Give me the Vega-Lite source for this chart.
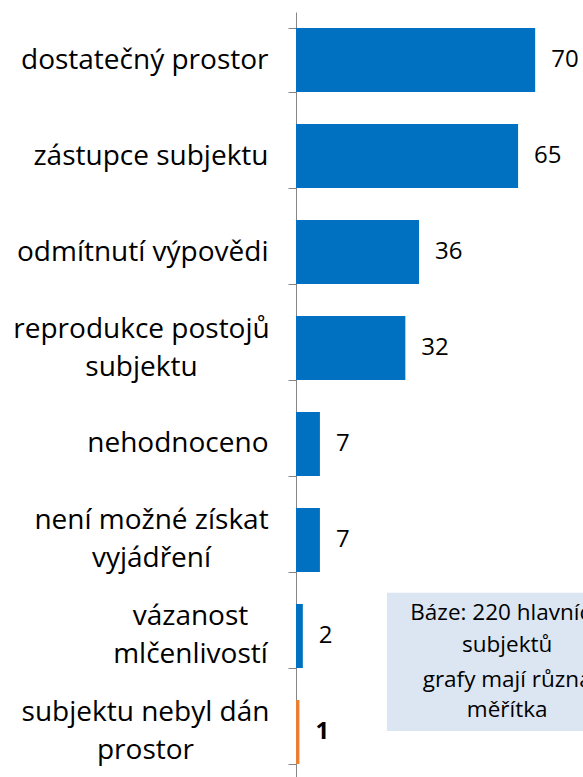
{
  "$schema": "https://vega.github.io/schema/vega-lite/v6.json",
  "width": 287,
  "height": 768,
  "autosize": {"type": "none"},
  "padding": {"left": 296, "top": 12, "right": 0, "bottom": 0},
  "config": {"view": {"stroke": null}, "font": "Open Sans"},
  "layer": [
    {
      "data": {
        "values": [
          {"kategorie": "dostatečný prostor", "pocet": 70, "skupina": "a"},
          {"kategorie": "zástupce subjektu", "pocet": 65, "skupina": "a"},
          {"kategorie": "odmítnutí výpovědi", "pocet": 36, "skupina": "a"},
          {"kategorie": "reprodukce postojů\nsubjektu", "pocet": 32, "skupina": "a"},
          {"kategorie": "nehodnoceno", "pocet": 7, "skupina": "a"},
          {"kategorie": "není možné získat\nvyjádření", "pocet": 7, "skupina": "a"},
          {"kategorie": "vázanost\nmlčenlivostí", "pocet": 2, "skupina": "a"},
          {"kategorie": "subjektu nebyl dán\nprostor", "pocet": 1, "skupina": "b"}
        ]
      },
      "encoding": {
        "y": {
          "field": "kategorie",
          "type": "nominal",
          "sort": null,
          "scale": {"paddingInner": 0.3333, "paddingOuter": 0.1667},
          "axis": {
            "title": null,
            "domainColor": "#868686",
            "tickColor": "#868686",
            "tickSize": 8,
            "tickBand": "extent",
            "labelFontSize": 28,
            "labelColor": "#000000",
            "labelAlign": {
              "condition": {"test": "indexof(datum.value + '', '\\n') >= 0", "value": "center"},
              "value": "right"
            },
            "labelPadding": {
              "condition": [
                {"test": "indexof(datum.value + '', 'reprodukce') == 0", "value": 147},
                {"test": "indexof(datum.value + '', 'není') == 0", "value": 137},
                {"test": "indexof(datum.value + '', 'vázanost') == 0", "value": 98},
                {"test": "indexof(datum.value + '', 'subjektu nebyl') == 0", "value": 143}
              ],
              "value": 20
            },
            "labelOffset": {
              "condition": {"test": "indexof(datum.value + '', '\\n') >= 0", "value": -19},
              "value": 0
            },
            "labelLineHeight": 38,
            "labelLimit": 0,
            "labelExpr": "split(datum.label + '', '\\n')"
          }
        },
        "x": {
          "field": "pocet",
          "type": "quantitative",
          "scale": {"domain": [0, 84]},
          "axis": null
        }
      },
      "layer": [
        {
          "mark": {"type": "bar"},
          "encoding": {
            "color": {
              "field": "skupina",
              "type": "nominal",
              "scale": {"domain": ["a", "b"], "range": ["#0070C0", "#ED7D31"]},
              "legend": null
            }
          }
        },
        {
          "transform": [{"filter": "datum.skupina == 'a'"}],
          "mark": {"type": "text", "align": "left", "dx": 16, "fontSize": 24, "color": "#000000"},
          "encoding": {"text": {"field": "pocet", "type": "quantitative"}}
        },
        {
          "transform": [{"filter": "datum.skupina == 'b'"}],
          "mark": {"type": "text", "align": "left", "dx": 16, "fontSize": 24, "fontWeight": "bold", "color": "#000000"},
          "encoding": {"text": {"field": "pocet", "type": "quantitative"}}
        }
      ]
    },
    {
      "data": {"values": [{"poznamka": "box"}]},
      "mark": {"type": "rect", "color": "#DCE6F2"},
      "encoding": {
        "x": {"datum": 26.6, "type": "quantitative", "scale": {"domain": [0, 84]}, "axis": null},
        "x2": {"datum": 100},
        "y": {"datum": 6.05, "type": "quantitative", "scale": {"domain": [0, 8], "reverse": true}, "axis": null},
        "y2": {"datum": 7.49}
      }
    },
    {
      "data": {"values": [{"poznamka": "Báze: 220 hlavních\nsubjektů"}]},
      "mark": {"type": "text", "align": "center", "baseline": "alphabetic", "fontSize": 22.5, "lineHeight": 32, "lineBreak": "\n", "color": "#000000"},
      "encoding": {
        "x": {"datum": 61.8, "type": "quantitative", "scale": {"domain": [0, 84]}, "axis": null},
        "y": {"datum": 6.333, "type": "quantitative", "scale": {"domain": [0, 8], "reverse": true}, "axis": null},
        "text": {"field": "poznamka", "type": "nominal"}
      }
    },
    {
      "data": {"values": [{"poznamka": "grafy mají různá\nměřítka"}]},
      "mark": {"type": "text", "align": "center", "baseline": "alphabetic", "fontSize": 22.5, "lineHeight": 30, "lineBreak": "\n", "color": "#000000"},
      "encoding": {
        "x": {"datum": 61.8, "type": "quantitative", "scale": {"domain": [0, 84]}, "axis": null},
        "y": {"datum": 7.031, "type": "quantitative", "scale": {"domain": [0, 8], "reverse": true}, "axis": null},
        "text": {"field": "poznamka", "type": "nominal"}
      }
    }
  ],
  "resolve": {"scale": {"y": "independent"}, "axis": {"y": "independent"}}
}
